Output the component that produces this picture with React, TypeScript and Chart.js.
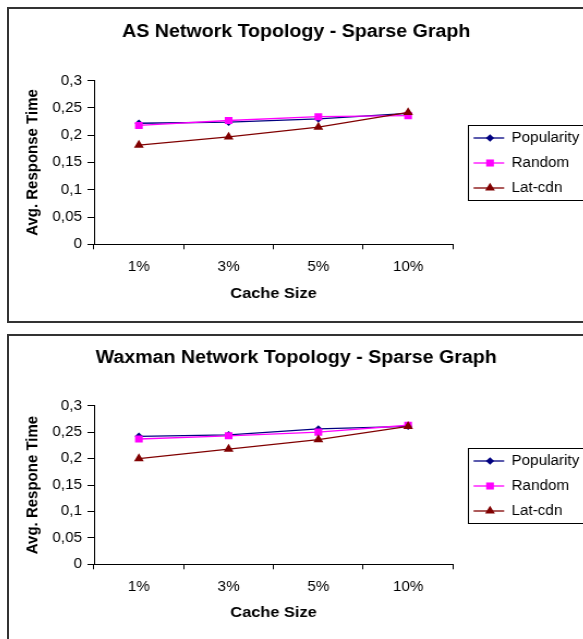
import React, { useEffect, useRef } from 'react';
import { Chart, registerables } from 'chart.js';
import { drawPoint } from 'chart.js/helpers';

Chart.register(...registerables);

// ---- data ----
const categories = ['1%', '3%', '5%', '10%'];
const seriesNames = ['Popularity', 'Random', 'Lat-cdn'];

const asPopularity = [0.222, 0.224, 0.23, 0.24];
const asRandom = [0.218, 0.227, 0.234, 0.236];
const asLatCdn = [0.182, 0.197, 0.215, 0.242];

const waxPopularity = [0.242, 0.245, 0.256, 0.261];
const waxRandom = [0.237, 0.243, 0.25, 0.263];
const waxLatCdn = [0.2, 0.218, 0.236, 0.261];

const yTickValues = [0, 0.05, 0.1, 0.15, 0.2, 0.25, 0.3];
const yTickLabels = ['0', '0,05', '0,1', '0,15', '0,2', '0,25', '0,3'];

const asTitle = 'AS Network Topology - Sparse Graph';
const waxTitle = 'Waxman Network Topology - Sparse Graph';
const asYTitle = 'Avg. Response Time';
const waxYTitle = 'Avg. Respone Time';
const xTitle = 'Cache Size';

// ---- styling ----
const FONT = "'Liberation Sans', Arial, Helvetica, sans-serif";
const SX = 1.09;
const CANVAS_W = 527;
const seriesStyles = [
  { color: '#000080', pointStyle: 'rectRot', radius: 3.8 },
  { color: '#FF00FF', pointStyle: 'rect', radius: 5 },
  { color: '#800000', pointStyle: 'triangle', radius: 5.2 },
];
const drawOrder = [2, 1, 0];

const excelLegend = {
  id: 'excelLegend',
  afterDraw(chart: any) {
    const { ctx, chartArea } = chart;
    const ds = chart.data.datasets;
    const rowH = 25;
    const boxH = rowH * ds.length;
    const cy = (chartArea.top + chartArea.bottom) / 2;
    const top = Math.round(cy - boxH / 2) + 0.5;
    const left = Math.round(chartArea.right + 13.5) + 0.5;
    ctx.save();
    ctx.strokeStyle = '#000';
    ctx.lineWidth = 1;
    ctx.strokeRect(left, top, chart.width - left + 20, boxH);
    ds.forEach((d: any, i: number) => {
      const y = top + rowH * (i + 0.5);
      ctx.strokeStyle = d.borderColor;
      ctx.lineWidth = d.borderWidth;
      ctx.beginPath();
      ctx.moveTo(left + 4.7, y);
      ctx.lineTo(left + 32.8, y);
      ctx.stroke();
      ctx.fillStyle = d.pointBackgroundColor;
      ctx.strokeStyle = d.pointBorderColor;
      drawPoint(ctx, { pointStyle: d.pointStyle, rotation: 0, radius: d.pointRadius, borderWidth: 0 }, left + 19.8, y);
      ctx.fillStyle = '#000';
      ctx.font = `14px ${FONT}`;
      ctx.textBaseline = 'middle';
      ctx.textAlign = 'left';
      ctx.fillText(d.label, left + 39.5, y + 0.5);
    });
    ctx.restore();
  },
};

function makeConfig(title: string, yTitle: string, series: number[][], g: any) {
  return {
    type: 'line',
    data: {
      labels: categories,
      datasets: series.map((vals, i) => ({
        label: seriesNames[i],
        data: vals,
        borderColor: seriesStyles[i].color,
        backgroundColor: seriesStyles[i].color,
        pointBackgroundColor: seriesStyles[i].color,
        pointBorderColor: seriesStyles[i].color,
        pointBorderWidth: 0,
        pointStyle: seriesStyles[i].pointStyle,
        pointRadius: seriesStyles[i].radius,
        borderWidth: 1.3,
        tension: 0,
        fill: false,
        order: drawOrder[i],
        xAxisID: 'x',
        yAxisID: 'y',
      })),
    },
    options: {
      responsive: false,
      animation: false,
      events: [],
      layout: { padding: { left: 0, right: 0, top: 0, bottom: g.layoutBottom } },
      plugins: {
        legend: { display: false },
        tooltip: { enabled: false },
        title: {
          display: true,
          text: title,
          color: '#000',
          font: { family: FONT, size: 18, weight: 'bold' },
          padding: { top: g.titleTop, bottom: g.titleBottom },
        },
      },
      scales: {
        x: {
          type: 'category',
          offset: true,
          grid: { display: true, offset: true, drawOnChartArea: false, drawTicks: true, tickLength: 5, color: '#000', lineWidth: 1 },
          border: { display: true, color: '#000', width: 1 },
          ticks: { color: '#000', font: { family: FONT, size: 14 }, padding: 9, maxRotation: 0, autoSkip: false },
          title: { display: true, text: xTitle, color: '#000', font: { family: FONT, size: 15, weight: 'bold' }, padding: { top: 0, bottom: 4 } },
          afterFit(s: any) { s.height = g.xAxisH; },
        },
        y: {
          type: 'linear',
          position: 'left',
          min: 0,
          max: 0.3,
          afterBuildTicks(s: any) { s.ticks = yTickValues.map((v) => ({ value: v })); },
          grid: { display: true, drawOnChartArea: false, drawTicks: true, tickLength: 6, color: '#000', lineWidth: 1 },
          border: { display: true, color: '#000', width: 1 },
          ticks: {
            color: '#000',
            font: { family: FONT, size: 14 },
            padding: 5,
            callback: (_v: any, i: number) => yTickLabels[i],
          },
          title: { display: true, text: yTitle, color: '#000', font: { family: FONT, size: 15, weight: 'bold' }, padding: { top: 13, bottom: 0 } },
          afterFit(s: any) { s.width = 78; },
        },
        yRight: {
          type: 'linear',
          position: 'right',
          display: true,
          grid: { display: false },
          border: { display: false },
          ticks: { display: false },
          afterFit(s: any) { s.width = CANVAS_W - 407.3; },
        },
      },
    },
    plugins: [excelLegend],
  } as any;
}

function ExcelChart({ config, top, height }: { config: any; top: number; height: number }) {
  const ref = useRef<HTMLCanvasElement | null>(null);
  useEffect(() => {
    const c = new Chart(ref.current as HTMLCanvasElement, config);
    return () => c.destroy();
  }, []);
  return (
    <canvas
      ref={ref}
      width={CANVAS_W}
      height={height}
      style={{
        position: 'absolute',
        left: 9,
        top,
        width: CANVAS_W,
        height,
        transform: `scaleX(${SX})`,
        transformOrigin: '0 0',
      }}
    />
  );
}

export default function App() {
  const topCfg = makeConfig(asTitle, asYTitle, [asPopularity, asRandom, asLatCdn], {
    titleTop: 11.9, titleBottom: 38.2, xAxisH: 63, layoutBottom: 13.7,
  });
  const botCfg = makeConfig(waxTitle, waxYTitle, [waxPopularity, waxRandom, waxLatCdn], {
    titleTop: 10.5, titleBottom: 36.6, xAxisH: 62, layoutBottom: 12.7,
  });
  const boxStyle = (top: number, height: number): React.CSSProperties => ({
    position: 'absolute', left: 7, top, width: 700, height, border: '2px solid #333', boxSizing: 'border-box',
  });
  return (
    <div style={{ position: 'fixed', left: 0, top: 0, width: 583, height: 639, overflow: 'hidden', background: '#fff' }}>
      <div style={boxStyle(7, 316)} />
      <div style={boxStyle(334, 400)} />
      <ExcelChart config={topCfg} top={9} height={312} />
      <ExcelChart config={botCfg} top={337} height={302} />
    </div>
  );
}
